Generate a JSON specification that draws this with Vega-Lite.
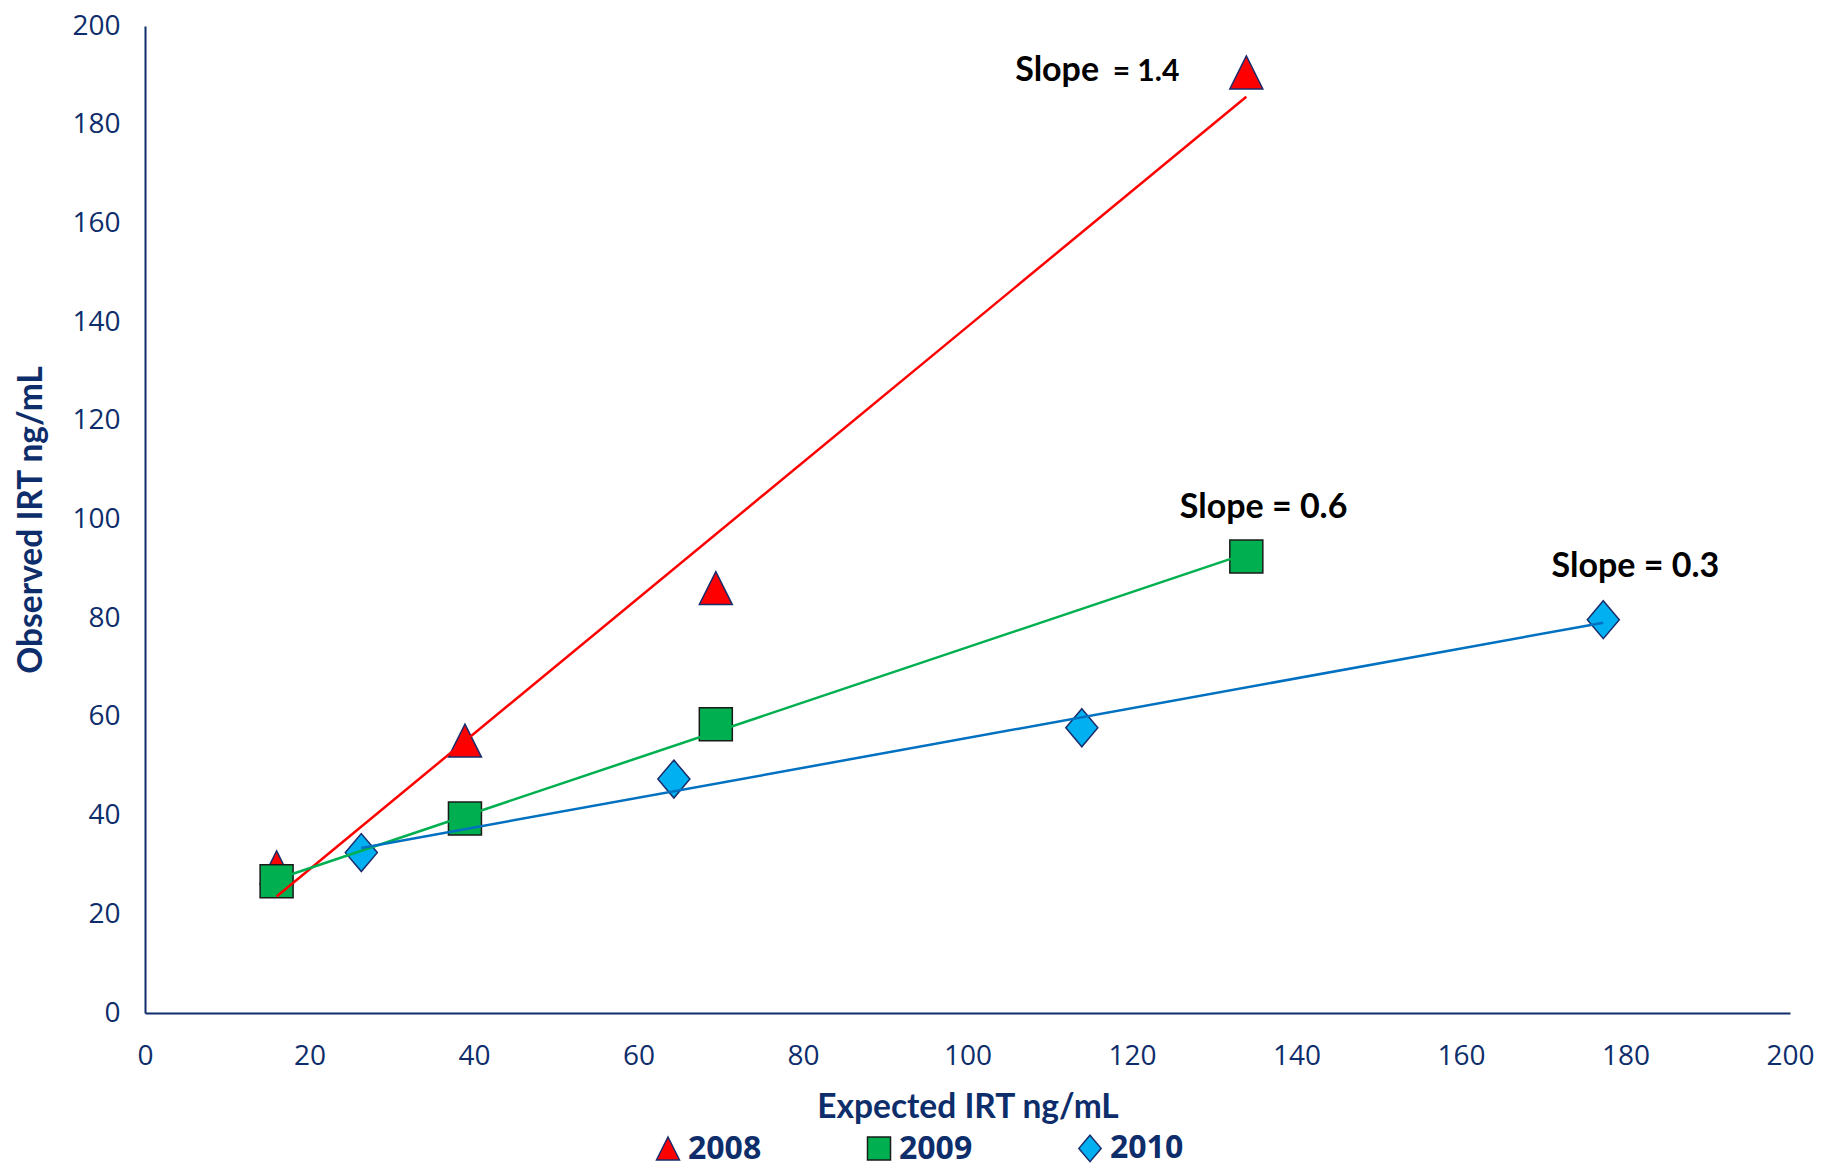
{
  "$schema": "https://vega.github.io/schema/vega-lite/v6.json",
  "width": 1645,
  "height": 987,
  "autosize": {"type": "none"},
  "padding": {"left": 145, "top": 26, "right": 35, "bottom": 160},
  "background": "white",
  "config": {"view": {"stroke": null}, "font": "Open Sans"},
  "datasets": {
    "pts": [
      {"year": "2008", "expected": 16.0, "observed": 29.5},
      {"year": "2008", "expected": 38.9, "observed": 55.2},
      {"year": "2008", "expected": 69.4, "observed": 86.1},
      {"year": "2008", "expected": 133.9, "observed": 190.6},
      {"year": "2009", "expected": 16.0, "observed": 26.7},
      {"year": "2009", "expected": 38.9, "observed": 39.4},
      {"year": "2009", "expected": 69.4, "observed": 58.5},
      {"year": "2009", "expected": 133.9, "observed": 92.5},
      {"year": "2010", "expected": 26.3, "observed": 32.5},
      {"year": "2010", "expected": 64.3, "observed": 47.4},
      {"year": "2010", "expected": 113.9, "observed": 57.8},
      {"year": "2010", "expected": 177.3, "observed": 79.7}
    ],
    "notes": [
      {"label": "Slope", "expected": 110.9, "observed": 188.8},
      {"label": "Slope = 0.6", "expected": 136.0, "observed": 100.3},
      {"label": "Slope = 0.3", "expected": 181.2, "observed": 88.3}
    ],
    "notes2": [
      {"label": "= 1.4", "expected": 121.7, "observed": 188.8}
    ]
  },
  "layer": [
    {
      "data": {"name": "pts"},
      "mark": {"type": "point", "filled": true, "opacity": 1, "size": 1089, "strokeWidth": 1.5},
      "encoding": {
        "x": {
          "field": "expected", "type": "quantitative",
          "scale": {"domain": [0, 200], "nice": false, "zero": false},
          "axis": {
            "title": "Expected IRT ng/mL",
            "values": [0, 20, 40, 60, 80, 100, 120, 140, 160, 180, 200],
            "grid": false, "ticks": false, "tickSize": 0,
            "domainColor": "#0E2D6B", "domainWidth": 2,
            "labelFont": "Open Sans", "labelFontSize": 28, "labelColor": "#0E2D6B",
            "labelPadding": 29, "labelFlush": false, "labelOverlap": false, "labelBound": false,
            "titleFont": "Lato", "titleFontWeight": "bold", "titleFontSize": 33.5, "titleColor": "#0E2D6B",
            "titlePadding": 21
          }
        },
        "y": {
          "field": "observed", "type": "quantitative",
          "scale": {"domain": [0, 200], "nice": false, "zero": false},
          "axis": {
            "title": "Observed IRT ng/mL",
            "values": [0, 20, 40, 60, 80, 100, 120, 140, 160, 180, 200],
            "grid": false, "ticks": false, "tickSize": 0,
            "domainColor": "#0E2D6B", "domainWidth": 2,
            "labelFont": "Open Sans", "labelFontSize": 28, "labelColor": "#0E2D6B",
            "labelPadding": 25, "labelFlush": false, "labelOverlap": false, "labelBound": false,
            "titleFont": "Lato", "titleFontWeight": "bold", "titleFontSize": 33.5, "titleColor": "#0E2D6B",
            "titlePadding": 23
          }
        },
        "shape": {
          "field": "year", "type": "nominal",
          "scale": {"domain": ["2008", "2009", "2010"], "range": ["M0,-1L1,1L-1,1Z", "square", "M0,-1.15L0.97,0L0,1.15L-0.97,0Z"]},
          "legend": {"title": null, "orient": "none", "legendX": 507, "legendY": 1106, "direction": "horizontal",
            "labelFont": "Open Sans", "labelFontWeight": "bold", "labelFontSize": 32, "labelColor": "#0E2D6B",
            "columnPadding": 101, "labelOffset": 4, "symbolStrokeWidth": 1.5, "symbolSize": 529}
        },
        "fill": {
          "field": "year", "type": "nominal",
          "scale": {"domain": ["2008", "2009", "2010"], "range": ["#FF0000", "#00B050", "#00B0F0"]},
          "legend": {"title": null, "orient": "none", "legendX": 507, "legendY": 1106, "direction": "horizontal",
            "labelFont": "Open Sans", "labelFontWeight": "bold", "labelFontSize": 32, "labelColor": "#0E2D6B",
            "columnPadding": 101, "labelOffset": 4, "symbolStrokeWidth": 1.5, "symbolSize": 529}
        },
        "stroke": {
          "field": "year", "type": "nominal",
          "scale": {"domain": ["2008", "2009", "2010"], "range": ["#1B2C6B", "#1A1A1A", "#1B2C6B"]},
          "legend": {"title": null, "orient": "none", "legendX": 507, "legendY": 1106, "direction": "horizontal",
            "labelFont": "Open Sans", "labelFontWeight": "bold", "labelFontSize": 32, "labelColor": "#0E2D6B",
            "columnPadding": 101, "labelOffset": 4, "symbolStrokeWidth": 1.5, "symbolSize": 529}
        }
      }
    },
    {
      "data": {"name": "pts"},
      "transform": [{"regression": "observed", "on": "expected", "groupby": ["year"]}],
      "mark": {"type": "line", "strokeWidth": 2.5},
      "encoding": {
        "x": {"field": "expected", "type": "quantitative"},
        "y": {"field": "observed", "type": "quantitative"},
        "color": {
          "field": "year", "type": "nominal",
          "scale": {"domain": ["2008", "2009", "2010"], "range": ["#FF0000", "#00B050", "#0070C0"]},
          "legend": null
        }
      }
    },
    {
      "data": {"name": "notes"},
      "mark": {"type": "text", "font": "Lato", "fontWeight": "bold", "fontSize": 34, "color": "#000000", "align": "center", "baseline": "alphabetic"},
      "encoding": {
        "x": {"field": "expected", "type": "quantitative"},
        "y": {"field": "observed", "type": "quantitative"},
        "text": {"field": "label"}
      }
    },
    {
      "data": {"name": "notes2"},
      "mark": {"type": "text", "font": "Lato", "fontWeight": "bold", "fontSize": 30, "color": "#000000", "align": "center", "baseline": "alphabetic"},
      "encoding": {
        "x": {"field": "expected", "type": "quantitative"},
        "y": {"field": "observed", "type": "quantitative"},
        "text": {"field": "label"}
      }
    }
  ]
}
